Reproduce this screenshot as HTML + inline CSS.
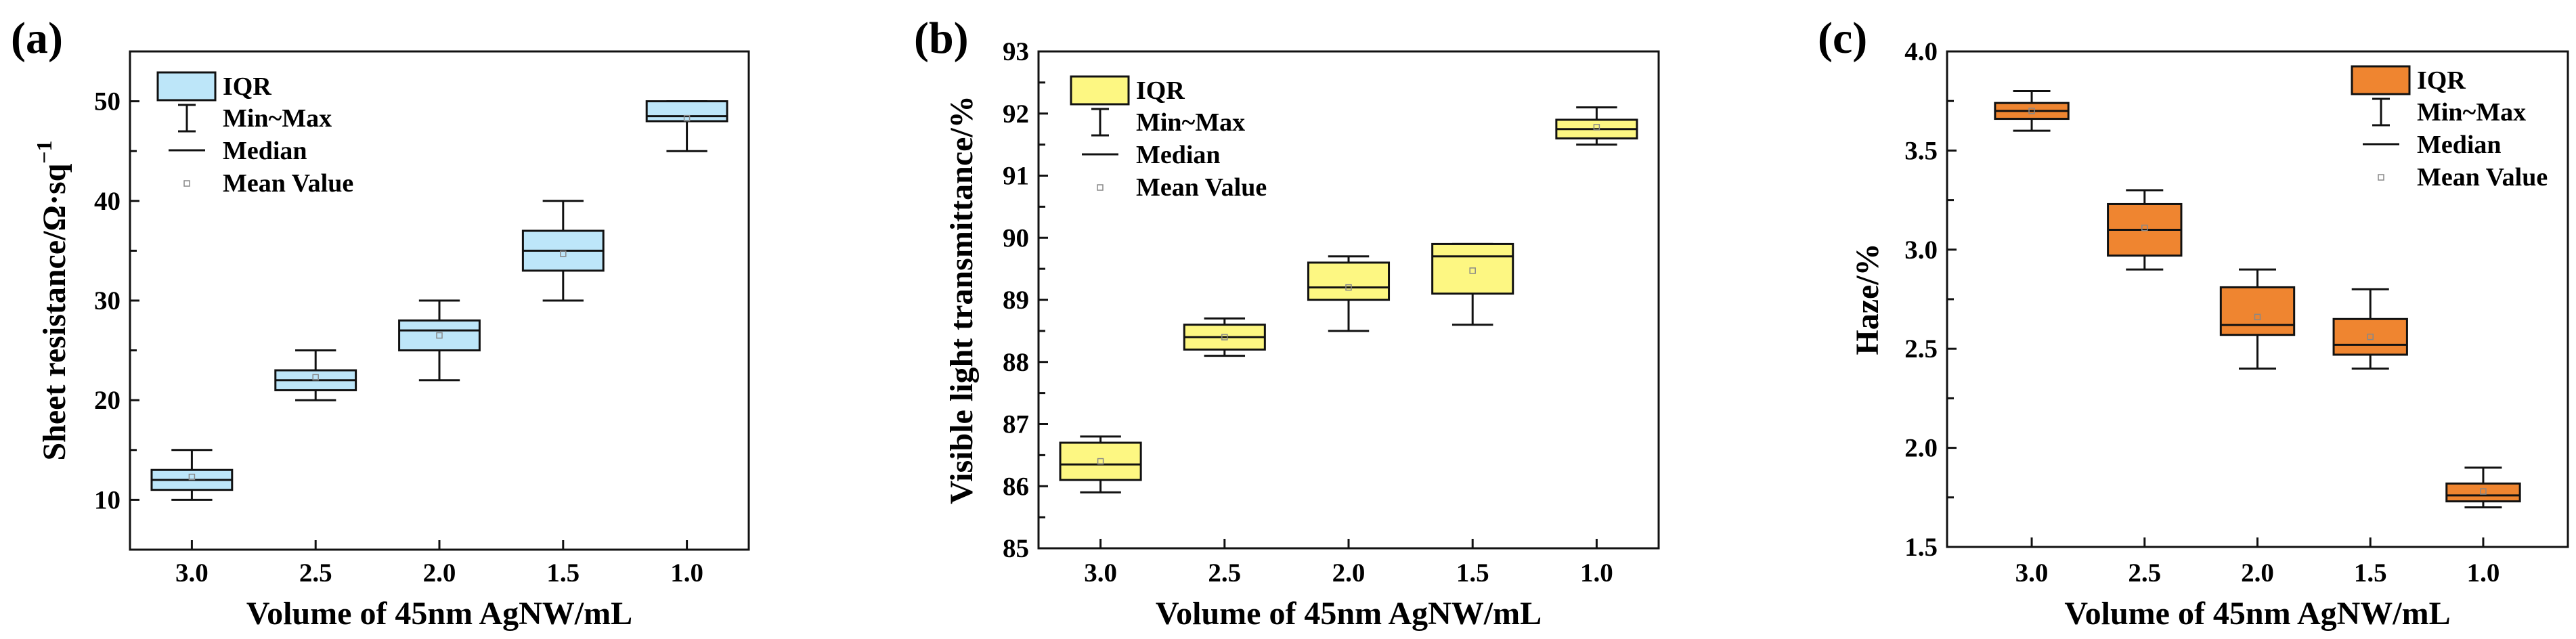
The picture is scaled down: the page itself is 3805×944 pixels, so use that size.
<!DOCTYPE html>
<html><head><meta charset="utf-8"><style>
html,body{margin:0;padding:0;background:#fff;}
svg{display:block;font-family:"Liberation Serif","Times New Roman",serif;font-weight:bold;}
</style></head><body>
<svg id="fig" width="3805" height="944" viewBox="0 0 3805 944" xmlns="http://www.w3.org/2000/svg"></svg>
<script>
const categories = ["3.0","2.5","2.0","1.5","1.0"];
// panel a: sheet resistance
const aMin = [10,20,22,30,45];
const aQ1 = [11,21,25,33,48];
const aMed = [12,22,27,35,48.5];
const aQ3 = [13,23,28,37,50];
const aMax = [15,25,30,40,50];
const aMean = [12.3,22.3,26.5,34.7,48.3];
const aTicks = [10,20,30,40,50];
const aMinor = [15,25,35,45];
// panel b: transmittance
const bMin = [85.9,88.1,88.5,88.6,91.5];
const bQ1 = [86.1,88.2,89.0,89.1,91.6];
const bMed = [86.35,88.4,89.2,89.7,91.75];
const bQ3 = [86.7,88.6,89.6,89.9,91.9];
const bMax = [86.8,88.7,89.7,89.9,92.1];
const bMean = [86.4,88.4,89.2,89.47,91.78];
const bTicks = [85,86,87,88,89,90,91,92,93];
const bMinor = [85.5,86.5,87.5,88.5,89.5,90.5,91.5,92.5];
// panel c: haze
const cMin = [3.6,2.9,2.4,2.4,1.7];
const cQ1 = [3.66,2.97,2.57,2.47,1.73];
const cMed = [3.7,3.1,2.62,2.52,1.76];
const cQ3 = [3.74,3.23,2.81,2.65,1.82];
const cMax = [3.8,3.3,2.9,2.8,1.9];
const cMean = [3.7,3.11,2.66,2.56,1.78];
const cTicks = [1.5,2.0,2.5,3.0,3.5,4.0];
const cMinor = [1.75,2.25,2.75,3.25,3.75];

const NS="http://www.w3.org/2000/svg";
const svg=document.getElementById('fig');
function mk(tag,attrs,parent){const e=document.createElementNS(NS,tag);for(const k in attrs)e.setAttribute(k,attrs[k]);(parent||svg).appendChild(e);return e;}

function panel(cfg){
  const g=mk('g',{});
  
  
  const L=cfg.left,R=cfg.right,T=cfg.top,B=cfg.bottom;
  const sx=i=>L+(i+1-cfg.xmin)/(cfg.xmax-cfg.xmin)*(R-L);
  const sy=v=>B-(v-cfg.ymin)/(cfg.ymax-cfg.ymin)*(B-T);
  const sp=(R-L)/(cfg.xmax-cfg.xmin);
  // panel label
  const pl=mk('text',{x:cfg.labelX,y:78,'font-size':66},g);pl.textContent='('+cfg.id+')';
  
  
  // boxes
  for(let i=0;i<categories.length;i++){
    const cx=sx(i),bw=sp*0.65,cw=sp*0.33;
    const bg=mk('g',{},g);
    
    
    mk('line',{x1:cx,x2:cx,y1:sy(cfg.max[i]),y2:sy(cfg.q3[i]),stroke:'#111','stroke-width':3},bg);
    mk('line',{x1:cx,x2:cx,y1:sy(cfg.q1[i]),y2:sy(cfg.min[i]),stroke:'#111','stroke-width':3},bg);
    mk('line',{x1:cx-cw/2,x2:cx+cw/2,y1:sy(cfg.max[i]),y2:sy(cfg.max[i]),stroke:'#111','stroke-width':3},bg);
    mk('line',{x1:cx-cw/2,x2:cx+cw/2,y1:sy(cfg.min[i]),y2:sy(cfg.min[i]),stroke:'#111','stroke-width':3},bg);
    mk('rect',{x:cx-bw/2,y:sy(cfg.q3[i]),width:bw,height:sy(cfg.q1[i])-sy(cfg.q3[i]),fill:cfg.color,stroke:'#111','stroke-width':3},bg);
    mk('line',{x1:cx-bw/2,x2:cx+bw/2,y1:sy(cfg.med[i]),y2:sy(cfg.med[i]),stroke:'#111','stroke-width':3},bg);
    const m=mk('rect',{x:cx-4,y:sy(cfg.mean[i])-4,width:8,height:8,fill:'none',stroke:'#888','stroke-width':1.5},bg);
    
    
  }
  // frame
  const fr=mk('rect',{x:L,y:T,width:R-L,height:B-T,fill:'none',stroke:'#111','stroke-width':3},g);
  
  
  // y ticks
  cfg.ticks.forEach(v=>{
    mk('line',{x1:L,x2:L+14,y1:sy(v),y2:sy(v),stroke:'#111','stroke-width':3},g);
    const t=mk('text',{x:L-14,y:sy(v)+13,'font-size':39,'text-anchor':'end'},g);
    t.textContent=cfg.fmt(v);
    
    
  });
  cfg.minor.forEach(v=>{mk('line',{x1:L,x2:L+10,y1:sy(v),y2:sy(v),stroke:'#111','stroke-width':3},g);});
  // x ticks
  categories.forEach((c,i)=>{
    mk('line',{x1:sx(i),x2:sx(i),y1:B,y2:B-14,stroke:'#111','stroke-width':3},g);
    const t=mk('text',{x:sx(i),y:859,'font-size':39,'text-anchor':'middle'},g);
    t.textContent=c;
    
    
  });
  const xt=mk('text',{x:(L+R)/2,y:922,'font-size':48,'text-anchor':'middle'},g);
  xt.textContent='Volume of 45nm AgNW/mL';
  
  
  const yt=mk('text',{x:0,y:0,'font-size':48,'text-anchor':'middle',transform:`translate(${cfg.ytX},${(T+B)/2}) rotate(-90)`},g);
  yt.innerHTML=cfg.ytitle;
  
  
  // legend
  const lg=mk('g',{},g);
  
  
  const lx=cfg.lx,ly=cfg.ly;
  mk('rect',{x:lx,y:ly,width:85,height:41,fill:cfg.color,stroke:'#111','stroke-width':3},lg);
  const ix=lx+43;
  mk('line',{x1:ix,x2:ix,y1:ly+48,y2:ly+87,stroke:'#111','stroke-width':3},lg);
  mk('line',{x1:ix-13,x2:ix+13,y1:ly+48,y2:ly+48,stroke:'#111','stroke-width':3},lg);
  mk('line',{x1:ix-13,x2:ix+13,y1:ly+87,y2:ly+87,stroke:'#111','stroke-width':3},lg);
  mk('line',{x1:ix-27,x2:ix+27,y1:ly+115,y2:ly+115,stroke:'#111','stroke-width':3},lg);
  mk('rect',{x:ix-4,y:ly+160,width:8,height:8,fill:'none',stroke:'#888','stroke-width':1.5},lg);
  const labels=['IQR','Min~Max','Median','Mean Value'];
  const offs=[33,80,128,176];
  labels.forEach((s,k)=>{
    const t=mk('text',{x:lx+96,y:ly+offs[k],'font-size':38},lg);
    t.textContent=s;
    
    
  });
}
panel({id:'a',left:192,right:1106,top:76,bottom:812,xmin:0.5,xmax:5.5,ymin:5,ymax:55,
  min:aMin,q1:aQ1,med:aMed,q3:aQ3,max:aMax,mean:aMean,ticks:aTicks,minor:aMinor,fmt:v=>String(v),
  color:'#bde6f9',labelX:16,ytX:96,ytitle:'Sheet resistance/Ω·sq<tspan dy="-20" font-size="32">−1</tspan>',lx:233,ly:107});
panel({id:'b',left:1534,right:2450,top:76,bottom:810,xmin:0.5,xmax:5.5,ymin:85,ymax:93,
  min:bMin,q1:bQ1,med:bMed,q3:bQ3,max:bMax,mean:bMean,ticks:bTicks,minor:bMinor,fmt:v=>String(v),
  color:'#fdf782',labelX:1350,ytX:1436,ytitle:'Visible light transmittance/%',lx:1582,ly:113});
panel({id:'c',left:2876,right:3793,top:76,bottom:808,xmin:0.25,xmax:5.75,ymin:1.5,ymax:4.0,
  min:cMin,q1:cQ1,med:cMed,q3:cQ3,max:cMax,mean:cMean,ticks:cTicks,minor:cMinor,fmt:v=>v.toFixed(1),
  color:'#ef8530',labelX:2685,ytX:2774,ytitle:'Haze/%',lx:3474,ly:98});
</script>
</body></html>
